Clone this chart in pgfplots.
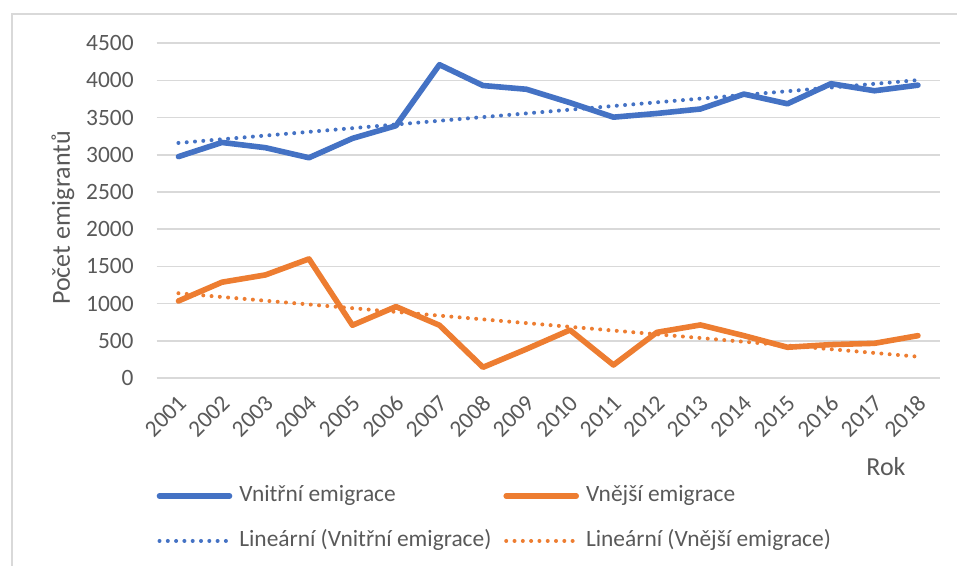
\documentclass[border=0pt]{standalone}
\usepackage{fontspec}
\setmainfont{Carlito}
\usepackage{pgfplots}
\pgfplotsset{compat=1.18}
\definecolor{cblue}{HTML}{4472C4}
\definecolor{corange}{HTML}{ED7D31}
\definecolor{cgrid}{HTML}{D9D9D9}
\definecolor{ctext}{HTML}{595959}
\pgfplotsset{
  plainimg/.style={legend image code/.code={\draw[##1] (0pt,0pt) -- (35pt,0pt);}},
  shiftimg/.style={legend image code/.code={\path (-2.5pt,0pt); \draw[##1] (0pt,0pt) -- (35pt,0pt);}},
}
\begin{document}
\begin{tikzpicture}
\useasboundingbox (0pt,0pt) rectangle (478.5pt,283pt);
\begin{scope}
\clip (0pt,0pt) rectangle (478.5pt,283pt);
\draw[cgrid, line width=0.75pt] (6pt,276pt) rectangle (500pt,-20pt);
\end{scope}
\begin{axis}[
  at={(78.35pt,93.95pt)}, anchor=south west,
  scale only axis, width=391.5pt, height=167.5pt,
  xmin=0.5, xmax=18.5, ymin=0, ymax=4500,
  xtick={1,2,3,4,5,6,7,8,9,10,11,12,13,14,15,16,17,18},
  xticklabels={2001,2002,2003,2004,2005,2006,2007,2008,2009,2010,2011,2012,2013,2014,2015,2016,2017,2018},
  ytick={0,500,1000,1500,2000,2500,3000,3500,4000,4500},
  /pgf/number format/assume math mode=true,
  /pgf/number format/1000 sep={},
  ymajorgrids, grid style={cgrid, line width=0.75pt},
  axis line style={draw=none},
  major tick length=0pt,
  tick label style={font=\fontsize{11.7}{14}\selectfont, text=ctext},
  yticklabel style={anchor=east, inner sep=0pt, xshift=-11.35pt},
  xticklabel style={inner sep=0pt, xshift=2pt, yshift=-10.5pt, rotate=45, anchor=east},
  ylabel={Počet emigrantů},
  ylabel style={at={(axis description cs:-0.1197,0.478)}, anchor=center, rotate=0, font=\fontsize{13}{15}\selectfont, text=ctext},
  xlabel={Rok},
  xlabel style={at={(axis description cs:0.9314,-0.2654)}, anchor=center, font=\fontsize{13}{15}\selectfont, text=ctext},
  legend columns=2,
  legend cell align=left,
  legend style={at={(axis description cs:0,-0.319)}, anchor=north west, draw=none, fill=none,
    inner sep=0pt, outer sep=0pt, column sep=3.5pt, row sep=11.5pt,
    font=\fontsize{11.7}{14}\selectfont, text=ctext,
    nodes={inner sep=0pt, text height=8.5pt, text depth=2.5pt}},
  plainimg,
]
\addplot[cblue, line width=2.8pt, line join=round, line cap=round] coordinates {
(1,2975) (2,3165) (3,3095) (4,2960) (5,3220) (6,3390) (7,4210) (8,3930) (9,3880)
(10,3700) (11,3505) (12,3555) (13,3615) (14,3815) (15,3685) (16,3955) (17,3860) (18,3935)};
\addlegendentry{Vnitřní emigrace}
\addplot[corange, line width=2.8pt, line join=round, line cap=round, shiftimg] coordinates {
(1,1036) (2,1288) (3,1386) (4,1601) (5,710) (6,960) (7,710) (8,145) (9,390)
(10,646) (11,176) (12,615) (13,714) (14,570) (15,414) (16,450) (17,467) (18,570)};
\addlegendentry{Vnější emigrace}
\addplot[cblue, line width=2pt, line cap=round, dash pattern=on 0pt off 4.15pt] coordinates {
(1,3158.7) (18,4002.5)};
\addlegendentry{Lineární (Vnitřní emigrace)}
\addplot[corange, line width=2pt, line cap=round, dash pattern=on 0pt off 4.15pt, shiftimg] coordinates {
(1,1139.8) (18,287.8)};
\addlegendentry{Lineární (Vnější emigrace)}
\end{axis}
\end{tikzpicture}
\end{document}
